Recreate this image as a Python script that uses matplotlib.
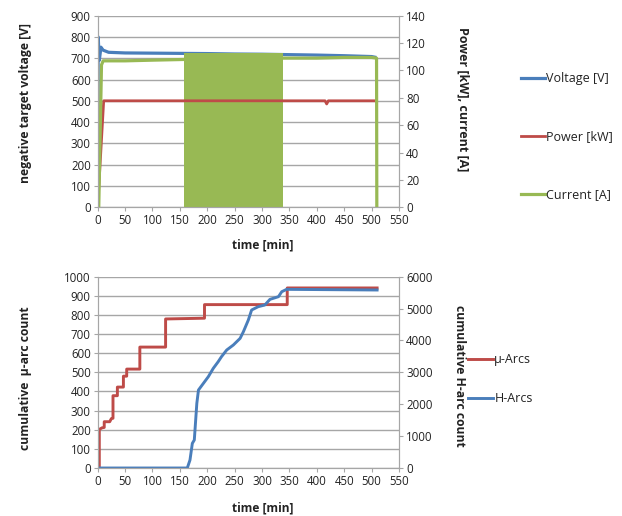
import matplotlib.pyplot as plt
from matplotlib.ticker import MultipleLocator

# Colours taken from the Excel-style reference
BLUE = '#4A7EBB'
RED = '#BE4B48'
GREEN = '#98B954'
GRID = '#A6A6A6'

plt.rcParams['font.family'] = ['Open Sans', 'DejaVu Sans']
plt.rcParams['font.size'] = 8.3
plt.rcParams['text.color'] = '#222222'
plt.rcParams['xtick.labelcolor'] = '#222222'
plt.rcParams['ytick.labelcolor'] = '#222222'

# --- top chart: voltage, power and current over time ---
time_v = [0, 1, 3, 6, 10, 20, 50, 100, 150, 200, 250, 300, 350, 400, 450, 500, 506]
voltage = [0, 800, 690, 752, 738, 728, 725, 724, 723, 722, 720, 719, 717, 715, 712, 708, 705]

time_p = [0, 11, 415, 418, 421, 506]
power_kw = [0, 77.8, 77.8, 75.5, 77.8, 77.8]

time_c = [0, 2, 7, 10, 50, 100, 157, 339, 400, 450, 500, 509, 509.5]
current_a = [0, 0, 104, 107, 107, 107.5, 108, 109, 109, 109.5, 109.5, 109, 0]

# pulsed section where the current swings between 0 and its peak
band_t = [157.5, 338.8]
band_top = [113, 113]

# --- bottom chart: cumulative arc counts ---
time_mu = [0, 3, 3, 8, 12, 12, 22, 25, 28, 28, 36, 36, 47, 47, 53, 53, 77, 77,
           124, 124, 195, 195, 346, 346, 510]
mu_arcs = [0, 0, 202, 210, 212, 242, 242, 258, 260, 378, 378, 423, 423, 480, 480, 517,
           517, 632, 632, 779, 783, 854, 854, 941, 941]

time_h = [0, 163.6, 168.5, 172.8, 176.4, 181, 184, 193, 202, 211, 220, 226, 235.5,
          247.6, 260, 266, 275, 281, 293, 305, 314.5, 330, 336, 345, 510]
h_arcs = [0, 0, 250, 773, 878, 2028, 2446, 2655, 2864, 3125, 3334, 3491, 3700,
          3857, 4066, 4275, 4641, 4955, 5059, 5111, 5289, 5373, 5529, 5603, 5582]


def style_axes(ax, ax2):
    for a in (ax, ax2):
        for s in a.spines.values():
            s.set_color(GRID)
        a.spines['top'].set_visible(False)
        a.tick_params(direction='out', length=3, color=GRID, width=0.8, pad=2)
    ax.grid(axis='y', color=GRID, linewidth=1)
    ax.set_axisbelow(True)
    ax.set_xlim(0, 550)
    ax.xaxis.set_major_locator(MultipleLocator(50))


fig = plt.figure(figsize=(6.22, 5.16), dpi=100)

ax1 = fig.add_axes([0.157, 0.5983, 0.4845, 0.3713])
ax1b = ax1.twinx()
style_axes(ax1, ax1b)
ax1.plot(time_v, voltage, color=BLUE, lw=2.3, label='Voltage [V]')
ax1b.plot(time_p, power_kw, color=RED, lw=2.0, label='Power [kW]')
ax1b.plot(time_c, current_a, color=GREEN, lw=2.3, label='Current [A]')
ax1b.fill_between(band_t, 0, band_top, color=GREEN, lw=0)
ax1.set_ylim(0, 900)
ax1.yaxis.set_major_locator(MultipleLocator(100))
ax1b.set_ylim(0, 140)
ax1b.yaxis.set_major_locator(MultipleLocator(20))
ax1.text(-0.241, 0.544, 'negative target voltage [V]', transform=ax1.transAxes,
         rotation=90, ha='center', va='center', fontweight='bold', fontsize=8.7)
ax1.text(1.212, 0.565, 'Power [kW], current [A]', transform=ax1.transAxes,
         rotation=270, ha='center', va='center', fontweight='bold', fontsize=9)
ax1.text(0.549, -0.197, 'time [min]', transform=ax1.transAxes,
         ha='center', va='center', fontweight='bold', fontsize=8.6)

h1 = ax1.get_lines() + ax1b.get_lines()
fig.legend(h1, [h.get_label() for h in h1], loc='center left', fontsize=9,
           bbox_to_anchor=(521 / 622, 0.7345), frameon=False, borderpad=0,
           borderaxespad=0, handlelength=1.9, handletextpad=0.1, labelspacing=3.6)

ax2 = fig.add_axes([0.157, 0.093, 0.4845, 0.3708])
ax2b = ax2.twinx()
style_axes(ax2, ax2b)
ax2.plot(time_mu, mu_arcs, color=RED, lw=2.1, label='µ-Arcs')
ax2b.plot(time_h, h_arcs, color=BLUE, lw=2.1, label='H-Arcs')
ax2.set_ylim(0, 1000)
ax2.yaxis.set_major_locator(MultipleLocator(100))
ax2b.set_ylim(0, 6000)
ax2b.yaxis.set_major_locator(MultipleLocator(1000))
ax2.text(-0.241, 0.468, 'cumulative  µ-arc count', transform=ax2.transAxes,
         rotation=90, ha='center', va='center', fontweight='bold', fontsize=8.7)
ax2.text(1.202, 0.481, 'cumulative H-arc count', transform=ax2.transAxes,
         rotation=270, ha='center', va='center', fontweight='bold', fontsize=8.7)
ax2.text(0.549, -0.209, 'time [min]', transform=ax2.transAxes,
         ha='center', va='center', fontweight='bold', fontsize=8.6)

h2 = ax2.get_lines() + ax2b.get_lines()
fig.legend(h2, [h.get_label() for h in h2], loc='center left', fontsize=9,
           bbox_to_anchor=(468 / 622, 0.2655), frameon=False, borderpad=0,
           borderaxespad=0, handlelength=2.0, handletextpad=0.1, labelspacing=2.1)

fig.savefig('out.png', dpi=100)
